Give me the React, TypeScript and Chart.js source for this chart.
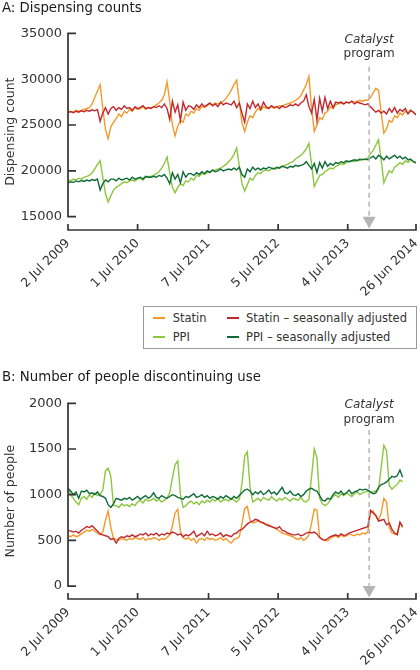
import React, { useEffect, useRef } from 'react';
import { Chart, registerables } from 'chart.js';

Chart.register(...registerables);

const FONT = '"DejaVu Sans", "Noto Sans", sans-serif';
const TEXT = '#333333';
const COLORS = { statin: '#F39A2B', statinSA: '#C1272D', ppi: '#8DC63F', ppiSA: '#0E6B37' };

// x axis: weeks since 2 Jul 2009
const tickWeeks = [0, 52, 105, 157, 209, 260];
const tickLabels = ['2 Jul 2009', '1 Jul 2010', '7 Jul 2011', '5 Jul 2012', '4 Jul 2013', '26 Jun 2014'];
const weeksPerPoint = 2;
const catalystWeek = 225;
const catalystLabel = ['Catalyst', 'program'];
const seriesNames = ['Statin', 'Statin – seasonally adjusted', 'PPI', 'PPI – seasonally adjusted'];

const yTicksA = [15000, 20000, 25000, 30000, 35000];
const yTicksB = [0, 500, 1000, 1500, 2000];

// ---- Panel A: dispensing counts ----
const statinA = [
  26300, 26500, 26400, 26600, 26500, 26600, 26700, 26800,
  26900, 27300, 28000, 28700, 29400, 26800, 24500, 23500, 24800, 25300, 25700,
  26200, 25900, 26500, 26300, 26700, 26500, 26900, 26700, 26800, 27000, 26700, 26900,
  26900, 27000, 27200, 27400, 27700, 28300,
  29700, 27600, 25000, 23800, 24900, 25500, 25300, 26200, 26000,
  26500, 26300, 26800, 26600, 27000, 26900, 27100, 27300, 27200, 27400,
  27300, 27400, 27600, 27900, 28300, 28800, 29400, 29900, 27500, 25200, 24300, 25300, 26000, 25800, 26400,
  26800, 26600, 27000, 26800, 26900, 27000, 26800, 27000, 27100, 27000, 27200, 27300, 27400,
  27500, 27700, 27900, 28200, 28800, 29400, 30300, 26800, 24300, 25000, 25800, 25600, 26300, 26500, 27000, 26800, 27200,
  27300, 27400, 27300, 27500, 27400, 27600, 27500, 27600, 27700, 27600, 27700, 27700,
  28000, 28500, 29000, 28800, 26300, 24100, 24600, 25500, 25300, 26000, 25800, 26300, 26100, 26500, 26300, 26600, 26400, 26200,
];
const statinSAA = [
  26400, 26450, 26350, 26500, 26400, 26550, 26450, 26600, 26500, 26650, 26550,
  26700, 25400, 26300, 26900, 26200, 26800,
  27000, 26600, 26900, 26700, 27100, 26800, 26900, 26600, 27000, 26800, 26900, 27100, 26800, 26900,
  26800, 27000, 26900, 27100, 26900, 27300, 26800, 25600, 27600, 26400, 27200, 25500, 27500, 26600, 27100,
  27000, 26700, 27200, 26900, 27300, 27000, 27200, 27400, 27100, 27300, 27000, 27500, 27200, 27400, 27300,
  27200, 27600, 26900, 27400, 26300, 25300, 27300, 26800, 27600, 26900,
  27300, 26700, 27500, 27000, 26800, 27100, 26900, 27000, 26800, 27100, 26900, 27000, 27200, 27100, 27300,
  27100, 27400, 27600, 28300, 27000, 26300, 27800, 25500, 27900, 26500, 28000, 26800, 27600, 26900, 27500,
  27400, 27500, 27300, 27500, 27400, 27600, 27300, 27500, 27400, 27300, 27200, 27300,
  27000, 26700, 26400, 26600, 26300, 26500, 26200, 26800, 26400, 26900, 26300, 26700, 26500, 26800, 26200, 26600, 26400, 26100,
];
const ppiA = [
  19000, 18900, 19100, 19000, 19200, 19100, 19300, 19400,
  19500, 19800, 20200, 20700, 21100, 19300, 17500, 16600, 17300, 17900, 18200,
  18400, 18600, 18800, 18700, 18900, 19000, 18900, 19100, 19200, 19000, 19300, 19400,
  19400, 19500, 19700, 19900, 20300, 20800,
  21500, 19800, 18200, 17600, 18200, 18600, 18400, 18900, 18800,
  19200, 19000, 19500, 19400, 19700, 19600, 19800, 19900, 20000, 20100,
  20200, 20300, 20500, 20700, 21000, 21300, 21800, 22500, 20500, 18600, 17800, 18500, 19200, 19000, 19500,
  19800, 19700, 20000, 20100, 20000, 20200, 20300, 20200, 20400, 20500, 20600, 20700, 20900,
  21000, 21300, 21500, 21700, 22000, 22400, 23000, 20700, 18300, 18900, 19500, 19600, 19900, 20100, 20300, 20200, 20500,
  20600, 20800, 20700, 20900, 21000, 21100, 21000, 21200, 21100, 21300, 21200, 21400,
  21900, 22200, 22800, 23400, 21200, 18700, 19400, 20000, 19800, 20400, 20600, 20900, 20700, 21100, 20900, 21200, 21000, 20800,
];
const ppiSAA = [
  18700, 18800, 18750, 18900, 18800, 18950, 18850, 19000, 18900, 19050, 18950,
  19100, 17900, 18600, 19000, 18800, 19100,
  19100, 18900, 19200, 19000, 19100, 19200, 19000, 19300, 19100, 19200, 19300, 19100, 19400, 19300,
  19300, 19400, 19300, 19500, 19400, 19600, 19200, 18600, 19800, 19100, 19600, 18700, 19900, 19300, 19700,
  19700, 19500, 19800, 19600, 19900, 19700, 20000, 19800, 20100, 19900, 20000, 20200, 20000, 20100, 20200,
  20100, 20300, 20100, 20400, 19600, 19300, 20200, 19900, 20400, 20100,
  20300, 20100, 20300, 20200, 20400, 20300, 20200, 20400, 20300, 20500, 20400, 20300, 20500, 20400, 20600,
  20500, 20600, 20700, 21000, 20600, 20200, 20800, 19800, 20900, 20300, 21000, 20500, 20800, 20600, 20900,
  20800, 21000, 20900, 21100, 21000, 21100, 21200, 21100, 21300, 21200, 21300, 21200,
  21400, 21600, 21300, 21700, 21500, 21200, 21600, 21300, 21500, 21700, 21400, 21600, 21300, 21500, 21200, 21300, 21000, 20900,
];

// ---- Panel B: number of people discontinuing use ----
const statinB = [
  550, 540, 560, 540, 550,
  570, 590, 610, 600, 620, 600, 580, 560,
  590, 720, 820, 640, 520,
  510, 500, 520, 510, 500, 520, 510, 530,
  520, 510, 530, 500, 520, 510, 530, 520, 500, 520, 510, 530,
  560, 660, 800, 840, 600, 530,
  510, 530, 500, 520, 470, 510, 520, 500, 530, 510,
  520, 500, 510, 530, 500, 520, 490, 470, 510, 520, 540,
  680, 850, 870, 720, 690,
  700, 710, 700, 690, 680, 670, 650, 640, 620, 600, 580, 570, 560, 550, 540,
  520, 510, 530, 500, 520, 560,
  690, 840, 830, 540, 510,
  500, 495, 520, 540, 550, 530, 560, 540, 550, 570, 560, 550, 570, 560, 580,
  570, 590, 800, 820, 770, 720,
  800, 960, 920, 640, 580,
  570, 580, 690, 640,
];
const statinSAB = [
  610, 600, 590, 600, 580,
  610, 630, 650, 640, 660, 630, 600, 570,
  560, 550, 540, 510, 520,
  470, 520, 540, 530, 550, 540, 560, 540,
  550, 570, 560, 580, 550, 570, 560, 580, 550, 570, 560, 580,
  570, 590, 580, 560, 570, 540,
  560, 550, 570, 600, 540, 560, 580, 550, 600, 560,
  570, 550, 560, 580, 540, 560, 550, 540, 570, 580, 610,
  620, 650, 680, 700, 710,
  730, 720, 700, 690, 670, 660, 650, 640, 630, 650, 610, 600, 580, 570, 560,
  560, 570, 550, 560, 580, 590,
  580, 590, 570, 530, 510,
  500, 520, 540, 550, 560, 545, 570, 555, 560, 580, 590, 600, 610, 620, 630,
  640, 650, 830, 800, 770, 710,
  720, 730, 670, 690, 620,
  580, 560, 700, 650,
];
const ppiB = [
  1070, 1000, 960, 920, 890,
  960, 980, 950, 1000, 970, 1020, 990, 1000,
  1050, 1260, 1290, 1200, 880,
  880, 860, 900, 880, 890, 870, 900, 880,
  920, 940, 910, 950, 930, 940, 960, 930, 950, 920, 940, 960,
  1020, 1180, 1330, 1370, 1000, 860,
  880, 910, 930, 900, 920, 890, 930, 910, 940, 920,
  950, 930, 960, 920, 940, 950, 930, 960, 940, 920, 950,
  1120, 1420, 1470, 1080, 920,
  940, 960, 930, 970, 950, 940, 980, 950, 930, 960, 940, 970, 950, 930, 960,
  950, 940, 970, 930, 920, 950,
  1200, 1500, 1400, 960, 900,
  880, 900, 940, 980, 1000, 970, 1010, 990, 1020, 1000, 980, 1010, 1030, 1000, 1020,
  1030, 1040, 1020, 1030, 1040, 1060,
  1300, 1540, 1480, 1100, 1060,
  1090, 1110, 1160, 1140,
];
const ppiSAB = [
  1070, 1040, 1000, 1030, 960,
  1040, 1030, 1050, 1010, 1020, 1000, 1030, 990,
  980, 960, 890, 860, 900,
  960, 950, 940, 960, 950, 970, 940, 960,
  980, 950, 970, 990, 960, 980, 1020, 970, 960, 990, 970, 960,
  980, 1000, 990, 970, 960, 950,
  980, 970, 990, 1010, 970, 980, 1000, 970, 990, 960,
  980, 970, 950, 980, 960, 990, 970, 950, 980, 960, 990,
  1020, 1050, 1060, 1040, 1000,
  1030, 1010, 1040, 1000, 1020, 1050, 1010, 1030, 1000, 1040, 1080, 1020, 1010, 1040, 1000,
  990, 1010, 980, 1000, 1040, 1060,
  1070, 1050, 1040, 990, 940,
  930, 960, 950, 1000, 1030, 1010, 1040, 1000, 1020, 1050, 1010, 1030, 1040, 1060, 1050,
  1060, 1050, 1030, 1010, 1020, 1080,
  1110, 1120, 1140, 1170, 1200,
  1190, 1210, 1270, 1190,
];

function toPoints(values: number[]) {
  return values.map((v, i) => ({ x: i * weeksPerPoint, y: v }));
}

const axesPlugin = {
  id: 'mjaAxes',
  afterDraw(chart: any, _args: any, o: any) {
    const { ctx, chartArea } = chart;
    const x = chart.scales.x;
    const y = chart.scales.y;
    const left = chartArea.left;
    const bottom = chartArea.bottom;
    const yTop = y.getPixelForValue(o.yTicks[o.yTicks.length - 1]);
    const yBot = y.getPixelForValue(o.yTicks[0]);
    ctx.save();
    ctx.strokeStyle = '#333333';
    ctx.lineWidth = 1.7;
    ctx.beginPath();
    ctx.moveTo(left, yTop - 0.85);
    ctx.lineTo(left, yBot + 0.85);
    for (const t of y.ticks) {
      const py = y.getPixelForValue(t.value);
      ctx.moveTo(left, py);
      ctx.lineTo(left + 8, py);
    }
    ctx.moveTo(x.getPixelForValue(x.min) - 0.85, bottom);
    ctx.lineTo(x.getPixelForValue(x.max) + 0.85, bottom);
    for (const t of x.ticks) {
      const px = x.getPixelForValue(t.value);
      ctx.moveTo(px, bottom);
      ctx.lineTo(px, bottom - 6);
    }
    ctx.stroke();

    // Catalyst program marker
    const cx = x.getPixelForValue(catalystWeek);
    ctx.fillStyle = TEXT;
    ctx.textAlign = 'center';
    ctx.textBaseline = 'alphabetic';
    ctx.font = `italic 12px ${FONT}`;
    ctx.fillText(catalystLabel[0], cx, chartArea.top + o.text1);
    ctx.font = `12px ${FONT}`;
    ctx.fillText(catalystLabel[1], cx, chartArea.top + o.text2);
    ctx.strokeStyle = '#B5B5B5';
    ctx.lineWidth = 1.5;
    ctx.setLineDash([5, 4]);
    ctx.beginPath();
    ctx.moveTo(cx, chartArea.top + o.lineTop);
    ctx.lineTo(cx, yBot);
    ctx.stroke();
    ctx.setLineDash([]);
    ctx.fillStyle = '#B5B5B5';
    ctx.beginPath();
    ctx.moveTo(cx - 6.5, yBot);
    ctx.lineTo(cx + 6.5, yBot);
    ctx.lineTo(cx, bottom - 1.5);
    ctx.closePath();
    ctx.fill();
    ctx.restore();
  },
};

function makeConfig(p: {
  statin: number[]; statinSA: number[]; ppi: number[]; ppiSA: number[];
  yMin: number; yMax: number; yTicks: number[]; yTitle: string;
  padTop: number; xHeight: number; text1: number; text2: number; lineTop: number;
}): any {
  const ds = (label: string, data: number[], color: string) => ({
    label,
    data: toPoints(data),
    borderColor: color,
    backgroundColor: color,
    borderWidth: 1.4,
    pointRadius: 0,
    tension: 0,
    fill: false,
  });
  return {
    type: 'line',
    data: {
      datasets: [
        ds(seriesNames[1], p.statinSA, COLORS.statinSA),
        ds(seriesNames[3], p.ppiSA, COLORS.ppiSA),
        ds(seriesNames[0], p.statin, COLORS.statin),
        ds(seriesNames[2], p.ppi, COLORS.ppi),
      ],
    },
    options: {
      animation: false,
      responsive: false,
      maintainAspectRatio: false,
      devicePixelRatio: 1,
      layout: { padding: { top: p.padTop, right: 4, left: 0, bottom: 0 } },
      plugins: {
        legend: { display: false },
        tooltip: { enabled: false },
        mjaAxes: { yTicks: p.yTicks, text1: p.text1, text2: p.text2, lineTop: p.lineTop },
      },
      scales: {
        x: {
          type: 'linear',
          min: tickWeeks[0],
          max: tickWeeks[tickWeeks.length - 1],
          grid: { display: false, drawTicks: false },
          border: { display: false },
          afterBuildTicks: (s: any) => { s.ticks = tickWeeks.map((v) => ({ value: v })); },
          afterFit: (s: any) => { s.height = p.xHeight; s.paddingRight = 0; s.paddingLeft = 0; },
          ticks: {
            autoSkip: false,
            maxRotation: 45,
            minRotation: 45,
            padding: 6,
            color: TEXT,
            font: { family: FONT, size: 12.5 },
            callback: (v: number) => tickLabels[tickWeeks.indexOf(v)] ?? '',
          },
        },
        y: {
          type: 'linear',
          min: p.yMin,
          max: p.yMax,
          grid: { display: false, drawTicks: false },
          border: { display: false },
          afterBuildTicks: (s: any) => { s.ticks = p.yTicks.map((v) => ({ value: v })); },
          afterFit: (s: any) => { s.width = 68; },
          ticks: {
            padding: 6,
            color: TEXT,
            font: { family: FONT, size: 13 },
            callback: (v: number) => String(v),
          },
          title: {
            display: true,
            text: p.yTitle,
            color: TEXT,
            font: { family: FONT, size: 12.5 },
            padding: { top: 3, bottom: 0 },
          },
        },
      },
    },
    plugins: [axesPlugin],
  };
}

function ChartCanvas({ config, top, height }: { config: any; top: number; height: number }) {
  const ref = useRef<HTMLCanvasElement>(null);
  useEffect(() => {
    const chart = new Chart(ref.current as HTMLCanvasElement, config);
    return () => chart.destroy();
  }, []);
  return (
    <canvas
      ref={ref}
      width={420}
      height={height}
      style={{ position: 'absolute', left: 0, top, width: 420, height }}
    />
  );
}

const configA = makeConfig({
  statin: statinA, statinSA: statinSAA, ppi: ppiA, ppiSA: ppiSAA,
  yMin: 13550, yMax: 35000, yTicks: yTicksA, yTitle: 'Dispensing count',
  padTop: 33.3, xHeight: 70, text1: 9.2, text2: 23.2, lineTop: 33.4,
});
const configB = makeConfig({
  statin: statinB, statinSA: statinSAB, ppi: ppiB, ppiSA: ppiSAB,
  yMin: -142, yMax: 2000, yTicks: yTicksB, yTitle: 'Number of people',
  padTop: 43.3, xHeight: 71, text1: 4.4, text2: 20, lineTop: 26.7,
});

const legendColors = [COLORS.statin, COLORS.statinSA, COLORS.ppi, COLORS.ppiSA];

function Legend() {
  const rows = [318.2, 336.7];
  const cols = [{ sw: 152.7, tx: 172.7 }, { sw: 226.7, tx: 246 }];
  const items = [0, 1, 2, 3].map((k) => ({ row: Math.floor(k / 2), col: k % 2, name: seriesNames[k], color: legendColors[k] }));
  return (
    <>
      <div
        style={{
          position: 'absolute', left: 143, top: 306, width: 274, height: 43,
          border: '1px solid #9a9a9a', boxSizing: 'border-box',
        }}
      />
      {items.map((it, k) => (
        <React.Fragment key={k}>
          <div
            style={{
              position: 'absolute', left: cols[it.col].sw, top: rows[it.row] - 1,
              width: 12, height: 2, background: it.color,
            }}
          />
          <div
            style={{
              position: 'absolute', left: cols[it.col].tx, top: rows[it.row] - 6.8,
              fontFamily: FONT, fontSize: 11.5, lineHeight: '14px', color: TEXT, whiteSpace: 'nowrap',
            }}
          >
            {it.name}
          </div>
        </React.Fragment>
      ))}
    </>
  );
}

export default function App() {
  const titleStyle: React.CSSProperties = {
    position: 'absolute', left: 2, fontFamily: FONT, fontSize: 13.3, lineHeight: '16px',
    color: '#1a1a1a', whiteSpace: 'nowrap',
  };
  return (
    <div style={{ position: 'absolute', left: 0, top: 0, width: 420, height: 670, background: '#fff', overflow: 'hidden' }}>
      <ChartCanvas config={configA} top={0} height={300} />
      <ChartCanvas config={configB} top={360} height={310} />
      <div style={{ ...titleStyle, top: 0 }}>A: Dispensing counts</div>
      <div style={{ ...titleStyle, top: 369 }}>B: Number of people discontinuing use</div>
      <Legend />
    </div>
  );
}
